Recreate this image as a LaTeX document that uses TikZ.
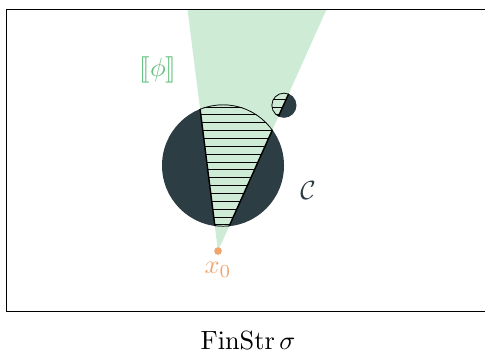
\documentclass[tikz,border=0pt]{standalone}
\usepackage{amsmath,amssymb,stmaryrd}
\usepackage{tikz}
\usetikzlibrary{positioning}

\definecolor{conegreen}{HTML}{CDEBD5}
\definecolor{phigreen}{HTML}{62C07C}
\definecolor{slate}{HTML}{2C3E43}
\definecolor{pointorange}{HTML}{F0A46E}

\begin{document}
\begin{tikzpicture}[x=0.38pt,y=-0.38pt,
  dot/.style={circle,fill=pointorange,inner sep=0pt,minimum size=2.9pt},
  hatchline/.style={line width=0.35pt,black},
  rim/.style={line width=0.55pt,black}]
\useasboundingbox (0,0) rectangle (485,356);
% the cone from x_0 up to the top of the box
\coordinate (apex) at (218,251);
\coordinate (tl) at (187.5,9.5);
\coordinate (tr) at (326.5,9.5);
\fill[conegreen] (apex) -- (tl) -- (tr) -- cycle;
% big and small disc of C, each cut by the cone and hatched inside it
\foreach \cx/\cy/\r in {223/165.5/61, 284/105.3/12.5}{
  \fill[slate] (\cx,\cy) circle[radius=\r];
  \begin{scope}
    \clip (apex) -- (tl) -- (tr) -- cycle;
    \clip (\cx,\cy) circle[radius=\r];
    \fill[conegreen] (\cx,\cy) circle[radius=\r];
    \foreach \k in {0,...,16}{\draw[hatchline] (\cx-\r,99.2+7.85*\k) -- (\cx+\r,99.2+7.85*\k);}
    \draw[rim] (\cx,\cy) circle[radius=\r];
  \end{scope}
  \begin{scope}
    \clip (\cx,\cy) circle[radius=\r];
    \draw[rim] (tl) -- (apex) -- (tr);
  \end{scope}
}
\node[dot] (x0) at (apex) {};
\node[text=pointorange,below=-1pt of x0] (x0lab) {$x_0$};
\node[text=phigreen] (phi) at (158,70) {$\llbracket\phi\rrbracket$};
\node[text=slate] (C) at (308,190) {$\mathcal{C}$};
% frame, open to the right
\draw[line width=0.5pt] (485,9.5) -- (6.5,9.5) -- (6.5,311.5) -- (485,311.5);
\node (title) at (248,340) {$\mathrm{FinStr}\,\sigma$};
\end{tikzpicture}
\end{document}
